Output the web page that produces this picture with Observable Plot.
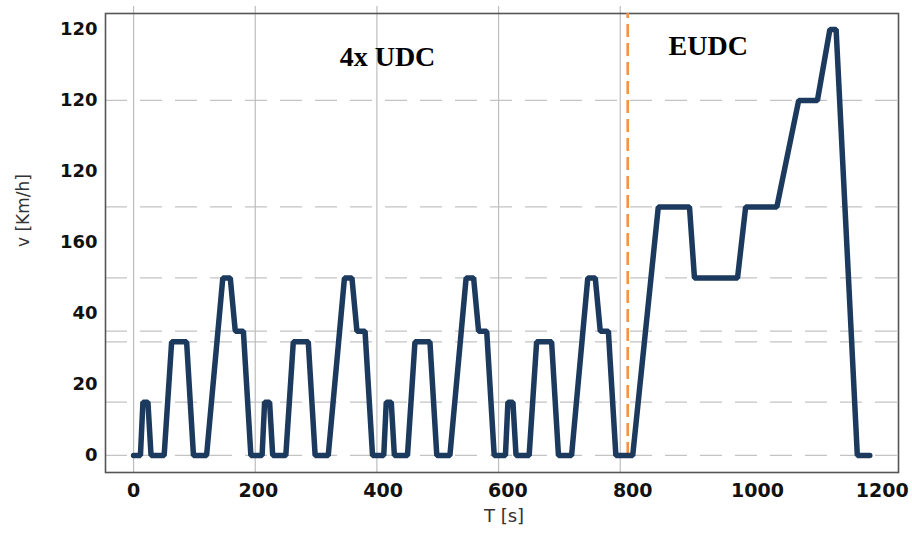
<!DOCTYPE html>
<html>
<head>
<meta charset="utf-8">
<script src="https://cdn.jsdelivr.net/npm/d3@7"></script>
<script src="https://cdn.jsdelivr.net/npm/@observablehq/plot@0.6"></script>
<style>
  html, body { margin: 0; padding: 0; background: #fff; }
  #chart svg { display: block; font-family: "DejaVu Sans", sans-serif; }
</style>
</head>
<body>
<div id="chart"></div>
<script>
// Time points (s) of the NEDC speed profile: 4x UDC followed by EUDC
const timeS = [
  0, 11, 15, 23, 28, 49, 61, 85, 96, 117, 143, 155, 163, 176, 188,
  195, 206, 210, 218, 223, 244, 256, 280, 291, 312, 338, 350, 358, 371, 383,
  390, 401, 405, 413, 418, 439, 451, 475, 486, 507, 533, 545, 553, 566, 578,
  585, 596, 600, 608, 613, 634, 646, 670, 681, 702, 728, 740, 748, 761, 773,
  780, 800, 841, 891, 899, 968, 981, 1031, 1066, 1096, 1116, 1126, 1160, 1180
];
// Speed (km/h) at each time point
const speedKmh = [
  0, 0, 15, 15, 0, 0, 32, 32, 0, 0, 50, 50, 35, 35, 0,
  0, 0, 15, 15, 0, 0, 32, 32, 0, 0, 50, 50, 35, 35, 0,
  0, 0, 15, 15, 0, 0, 32, 32, 0, 0, 50, 50, 35, 35, 0,
  0, 0, 15, 15, 0, 0, 32, 32, 0, 0, 50, 50, 35, 35, 0,
  0, 0, 70, 70, 50, 50, 70, 70, 100, 100, 120, 120, 0, 0
];
// Reference speed levels (dashed horizontal lines)
const refSpeeds = [0, 15, 32, 35, 50, 70, 100];
// Cycle boundaries (solid vertical grid lines)
const cycleBounds = [0, 195, 390, 585, 780];
// UDC / EUDC separator
const separatorT = [792];
// Axis ticks and their labels (as printed on the original)
const xTicks = [0, 200, 400, 600, 800, 1000, 1200];
const yTicks = [0, 20, 40, 60, 80, 100, 120];
const yTickLabels = ["0", "20", "40", "160", "120", "120", "120"];
// Section annotations
const sectionLabels = ["4x UDC", "EUDC"];
const sectionT = [407, 921];
const sectionV = [112.3, 115.2];

const profile = timeS.map((t, i) => ({t, v: speedKmh[i]}));
const sections = sectionLabels.map((label, i) => ({label, t: sectionT[i], v: sectionV[i]}));

const chart = Plot.plot({
  width: 912,
  height: 533,
  marginLeft: 105,
  marginRight: 14,
  marginTop: 13,
  marginBottom: 61,
  style: {fontFamily: "DejaVu Sans, sans-serif", background: "#fff"},
  x: {domain: [-45, 1226], label: null},
  y: {domain: [-4.8, 124.5], label: null},
  marks: [
    Plot.ruleY(refSpeeds, {stroke: "#c4c4c4", strokeWidth: 1.2, strokeDasharray: "22,13"}),
    Plot.ruleX(cycleBounds, {y1: -4.8, y2: 126.5, stroke: "#bdbdbd", strokeWidth: 1.2, clip: false}),
    Plot.frame({stroke: "#555", strokeWidth: 1.6}),
    Plot.ruleX(separatorT, {y1: 0, y2: 124.5, stroke: "#f39443", strokeWidth: 2.6, strokeDasharray: "13,6"}),
    Plot.line(profile, {x: "t", y: "v", stroke: "#1c3a5e", strokeWidth: 5.5, strokeLinejoin: "miter"}),
    Plot.text(sections, {x: "t", y: "v", text: "label", fontFamily: "Liberation Serif, Times New Roman, serif",
      fontWeight: "bold", fontSize: 28, fill: "#000", textAnchor: "middle"}),
    Plot.axisX({ticks: xTicks, tickSize: 0, tickPadding: 11, fontSize: 19, fontWeight: "bold", fill: "#111", label: null,
      tickFormat: (d) => String(d)}),
    Plot.axisY({ticks: yTicks, tickSize: 0, tickPadding: 8, fontSize: 18, fontWeight: "bold", fill: "#111", label: null,
      tickFormat: (d) => yTickLabels[yTicks.indexOf(d)]}),
    Plot.text(["T [s]"], {frameAnchor: "bottom", dx: 2, dy: 49, fontSize: 18, fill: "#333"}),
    Plot.text(["v [Km/h]"], {frameAnchor: "left", dx: -82, dy: 4, rotate: -90, fontSize: 17, fill: "#333"})
  ]
});
document.getElementById("chart").appendChild(chart);
</script>
</body>
</html>
